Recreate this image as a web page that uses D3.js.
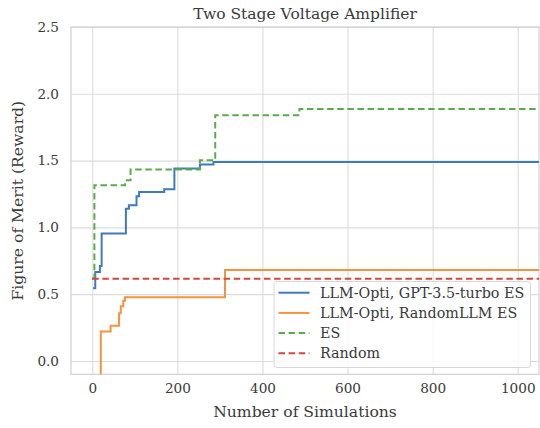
<!DOCTYPE html>
<html><head><meta charset="utf-8">
<script src="https://cdn.jsdelivr.net/npm/d3@7"></script>
<style>body{margin:0;background:#fff}svg{display:block}</style>
</head><body><svg id="c" width="540" height="428"></svg>
<script>
const title = "Two Stage Voltage Amplifier";
const xLabel = "Number of Simulations";
const yLabel = "Figure of Merit (Reward)";
const xTicks = [0, 200, 400, 600, 800, 1000];
const yTicks = [0.0, 0.5, 1.0, 1.5, 2.0, 2.5];
const seriesNames = ["LLM-Opti, GPT-3.5-turbo ES", "LLM-Opti, RandomLLM ES", "ES", "Random"];
const gptX = [2, 7, 18, 22, 79, 86, 104, 110, 169, 193, 253, 285, 1060];
const gptY = [0.545, 0.665, 0.71, 0.955, 1.14, 1.166, 1.233, 1.265, 1.285, 1.44, 1.47, 1.49, 1.49];
const rndLlmX = [19, 20, 43, 63, 67, 73, 77, 312, 1060];
const rndLlmY = [-0.5, 0.22, 0.264, 0.357, 0.41, 0.45, 0.476, 0.68, 0.68];
const esX = [0, 5, 77, 90, 253, 289, 487, 1060];
const esY = [0.62, 1.315, 1.352, 1.433, 1.503, 1.84, 1.886, 1.886];
const randomX = [0, 1060];
const randomY = [0.615, 0.615];

const colors = ["#3d7bbd", "#f5923e", "#5aab4b", "#d6453d"];
const dashes = [null, null, "6.5,3.6", "6.5,3.6"];
const seriesData = [[gptX, gptY], [rndLlmX, rndLlmY], [esX, esY], [randomX, randomY]];

const svg = d3.select("#c");
const L = 71, R = 539, T = 27, B = 374.3;
const x = d3.scaleLinear().domain([-50, 1050]).range([L, R]);
const y = d3.scaleLinear().domain([-0.1, 2.5]).range([B, T]);
const font = "'DejaVu Serif', serif";
const txt = "#3a3a3a";

svg.append("defs").append("clipPath").attr("id", "clip")
  .append("rect").attr("x", L).attr("y", T).attr("width", R - L).attr("height", B - T);

// grid
const gx = svg.append("g").attr("transform", `translate(0,${B})`)
  .call(d3.axisBottom(x).tickValues(xTicks).tickSize(-(B - T)).tickPadding(9).tickFormat(d3.format("d")));
const gy = svg.append("g").attr("transform", `translate(${L},0)`)
  .call(d3.axisLeft(y).tickValues(yTicks).tickSize(-(R - L)).tickPadding(12).tickFormat(d3.format(".1f")));
[gx, gy].forEach(g => {
  g.select(".domain").remove();
  g.selectAll(".tick line").attr("stroke", "#dcdcdc").attr("stroke-width", 1.1);
  g.selectAll(".tick text").attr("fill", txt).style("font-family", font).style("font-size", "13.6px");
});
// frame
svg.append("rect").attr("x", L).attr("y", T).attr("width", R - L).attr("height", B - T)
  .attr("fill", "none").attr("stroke", "#d0d0d0").attr("stroke-width", 1.2);

const line = d3.line().curve(d3.curveStepAfter).x(d => x(d[0])).y(d => y(d[1]));
const plot = svg.append("g").attr("clip-path", "url(#clip)");
seriesData.forEach((s, i) => {
  const pts = s[0].map((v, j) => [v, s[1][j]]);
  plot.append("path").attr("d", line(pts)).attr("fill", "none")
    .attr("stroke", colors[i]).attr("stroke-width", 2)
    .attr("stroke-dasharray", dashes[i]);
});

// title and labels
svg.append("text").attr("x", (L + R) / 2).attr("y", 19).attr("text-anchor", "middle")
  .attr("fill", txt).style("font-family", font).style("font-size", "15.5px").text(title);
svg.append("text").attr("x", (L + R) / 2).attr("y", 417).attr("text-anchor", "middle")
  .attr("fill", txt).style("font-family", font).style("font-size", "15.6px").text(xLabel);
svg.append("text").attr("transform", `translate(23,${(T + B) / 2}) rotate(-90)`).attr("text-anchor", "middle")
  .attr("fill", txt).style("font-family", font).style("font-size", "15.6px").text(yLabel);

// legend
const lg = svg.append("g");
lg.append("rect").attr("x", 274).attr("y", 281.5).attr("width", 256.5).attr("height", 86)
  .attr("rx", 3).attr("fill", "#fff").attr("fill-opacity", 0.8).attr("stroke", "#d8d8d8");
seriesNames.forEach((n, i) => {
  const cy = 292.7 + i * 20.2;
  lg.append("line").attr("x1", 278.5).attr("x2", 309.5).attr("y1", cy).attr("y2", cy)
    .attr("stroke", colors[i]).attr("stroke-width", 2).attr("stroke-dasharray", dashes[i]);
  lg.append("text").attr("x", 320).attr("y", cy).attr("dy", "0.36em").attr("fill", txt)
    .style("font-family", font).style("font-size", "14.3px").text(n);
});
</script></body></html>
